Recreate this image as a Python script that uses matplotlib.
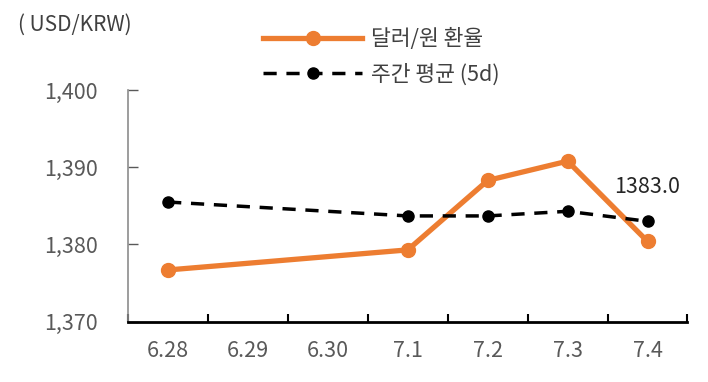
import matplotlib
matplotlib.use("Agg")
import matplotlib.pyplot as plt
import numpy as np

plt.rcParams['font.family'] = ['Noto Sans CJK KR', 'DejaVu Sans']

# data
dates = ["6.28", "6.29", "6.30", "7.1", "7.2", "7.3", "7.4"]
fx_rate = [1376.7, np.nan, np.nan, 1379.3, 1388.3, 1390.8, 1380.4]
weekly_avg = [1385.5, np.nan, np.nan, 1383.7, 1383.7, 1384.3, 1383.0]
last_label = "1383.0"

x = np.arange(len(dates))
orange = "#ED7D31"
gray = "#595959"

fig = plt.figure(figsize=(7.08, 3.82), dpi=100)
ax = fig.add_axes([0.181, 0.158, 0.79, 0.606])

# connect across missing weekend days
m1 = ~np.isnan(fx_rate)
m2 = ~np.isnan(weekly_avg)
ax.plot(x[m1], np.array(fx_rate)[m1], color=orange, lw=3.8, marker='o', ms=10,
        label="달러/원 환율", zorder=3)
ax.plot(x[m2], np.array(weekly_avg)[m2], color='black', lw=2.5, ls=(0, (3.8, 2.8)),
        marker='o', ms=8, label="주간 평균 (5d)", zorder=4)

ax.annotate(last_label, (x[-1], weekly_avg[-1]), xytext=(0, 17),
            textcoords='offset points', ha='center', va='bottom',
            fontsize=15.5, color='#262626')

ax.set_xlim(-0.5, len(dates) - 0.5)
ax.set_ylim(1370, 1400)
ax.set_yticks([1370, 1380, 1390, 1400])
ax.set_yticklabels([f"{v:,}" for v in [1370, 1380, 1390, 1400]])
ax.set_xticks(x)
ax.set_xticklabels(dates)
ax.set_xticks(np.arange(-0.5, len(dates)), minor=True)

ax.tick_params(axis='x', which='major', length=0, pad=13, labelsize=15.5, labelcolor=gray)
ax.tick_params(axis='x', which='minor', direction='in', length=6, width=1.5, color='black')
ax.tick_params(axis='y', direction='in', length=7, width=1, color=gray,
               pad=22, labelsize=15.5, labelcolor=gray)

for s in ['top', 'right']:
    ax.spines[s].set_visible(False)
ax.spines['left'].set_color('#8c8c8c')
ax.spines['left'].set_linewidth(1.2)
ax.spines['bottom'].set_color('black')
ax.spines['bottom'].set_linewidth(2)

fig.text(0.025, 0.935, "( USD/KRW)", fontsize=15, color='#404040', va='center')

ax.legend(loc='lower left', bbox_to_anchor=(0.218, 0.965), frameon=False,
          fontsize=15.5, handlelength=4.6, labelspacing=0.6, handletextpad=0.4,
          labelcolor='#404040', borderaxespad=0.2)

fig.savefig("out.png", dpi=100)
